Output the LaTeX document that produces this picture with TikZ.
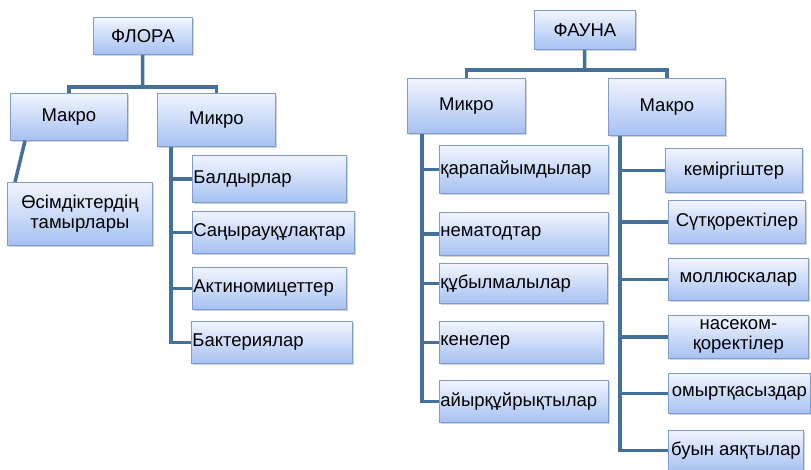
\documentclass[tikz,border=0pt]{standalone}
\usepackage{fontspec}
\setmainfont{Liberation Sans}
\usepackage{tikz}
\usetikzlibrary{positioning, shadows}

\definecolor{boxtop}{HTML}{F2F5FF}
\definecolor{boxbot}{HTML}{A6C1F2}
\definecolor{boxline}{HTML}{7F9CCB}
\definecolor{linkc}{HTML}{44709A}

\begin{document}
\begin{tikzpicture}[x=1pt, y=-1pt,
    box/.style={draw=boxline, line width=0.8pt, top color=boxtop, bottom color=boxbot, anchor=north west, inner sep=1pt, font=\fontsize{18.5}{20}\selectfont, drop shadow={shadow xshift=2pt, shadow yshift=-2pt, opacity=0.35}},
    lbox/.style={box, align=left, text width=#1},
    link/.style={draw=linkc, line width=3.5pt}]
            \useasboundingbox (0,0) rectangle (811,470);

            % flora
            \node[box, minimum width=99, minimum height=37] (flora) at (93, 17) {ФЛОРА};
            \node[box, minimum width=117, minimum height=47] (flmakro) at (10, 93) {Макро};
            \node[box, minimum width=118, minimum height=53] (flmikro) at (157, 93) {Микро};
            \node[box, minimum width=145, minimum height=63, align=center] (osimdik) at (7, 182) {Өсімдіктердің\\тамырлары};
            \node[lbox=152, minimum height=47] (baldyr) at (192, 155) {Балдырлар};
            \node[lbox=160, minimum height=42] (sanyrau) at (192, 211) {Саңырауқұлақтар};
            \node[lbox=152, minimum height=42] (aktino) at (192, 267) {Актиномицеттер};
            \node[lbox=159, minimum height=42] (bakter) at (191, 321) {Бактериялар};

            \coordinate (flbus) at (142.5, 87);
            \coordinate (flspine) at (171, 0);
            \draw[link] (flora) -- (flbus);
            \draw[link] (flbus) -| (flmakro);
            \draw[link] (flbus) -| (flmikro);
            \draw[link] ([xshift=15]flmakro.south west) -- ([xshift=8]osimdik.north west);
            \draw[link] (flspine |- flmikro.south) |- (bakter.west);
            \draw[link] (flspine |- baldyr.west) -- (baldyr.west);
            \draw[link] (flspine |- sanyrau.west) -- (sanyrau.west);
            \draw[link] (flspine |- aktino.west) -- (aktino.west);

            % fauna
            \node[box, minimum width=101, minimum height=39] (fauna) at (534, 10) {ФАУНА};
            \node[box, minimum width=118, minimum height=55] (famikro) at (407, 78) {Микро};
            \node[box, minimum width=117, minimum height=57] (famakro) at (608, 78) {Макро};
            \node[lbox=167, minimum height=48] (karapai) at (439, 145) {қарапайымдылар};
            \node[lbox=167, minimum height=43] (nemat) at (439, 212) {нематодтар};
            \node[lbox=166, minimum height=40] (kubyl) at (439, 263) {құбылмалылар};
            \node[lbox=162, minimum height=42] (kenel) at (439, 321) {кенелер};
            \node[lbox=167, minimum height=42] (aiyrk) at (439, 380) {айырқұйрықтылар};
            \node[box, minimum width=137, minimum height=44] (kemir) at (665, 148) {кеміргіштер};
            \node[box, minimum width=137, minimum height=43] (sutkor) at (668, 200) {Сүтқоректілер};
            \node[box, minimum width=140, minimum height=42] (mollu) at (668, 258) {моллюскалар};
            \node[box, minimum width=140, minimum height=43, align=center] (nasek) at (668, 315) {насеком-\\қоректілер};
            \node[box, minimum width=142, minimum height=40] (omyrt) at (668, 373) {омыртқасыздар};
            \node[box, minimum width=135, minimum height=40] (buyn) at (668, 430) {буын аяқтылар};

            \coordinate (fabus) at (584.5, 70);
            \coordinate (mispine) at (422, 0);
            \coordinate (maspine) at (620, 0);
            \draw[link] (fauna) -- (fabus);
            \draw[link] (fabus) -| (famikro);
            \draw[link] (fabus) -| (famakro);
            \draw[link] (mispine |- famikro.south) |- (aiyrk.west);
            \draw[link] (mispine |- karapai.west) -- (karapai.west);
            \draw[link] (mispine |- nemat.west) -- (nemat.west);
            \draw[link] (mispine |- kubyl.west) -- (kubyl.west);
            \draw[link] (mispine |- kenel.west) -- (kenel.west);
            \draw[link] (maspine |- famakro.south) |- (buyn.west);
            \draw[link] (maspine |- kemir.west) -- (kemir.west);
            \draw[link] (maspine |- sutkor.west) -- (sutkor.west);
            \draw[link] (maspine |- mollu.west) -- (mollu.west);
            \draw[link] (maspine |- nasek.west) -- (nasek.west);
            \draw[link] (maspine |- omyrt.west) -- (omyrt.west);
        \end{tikzpicture}
\end{document}
